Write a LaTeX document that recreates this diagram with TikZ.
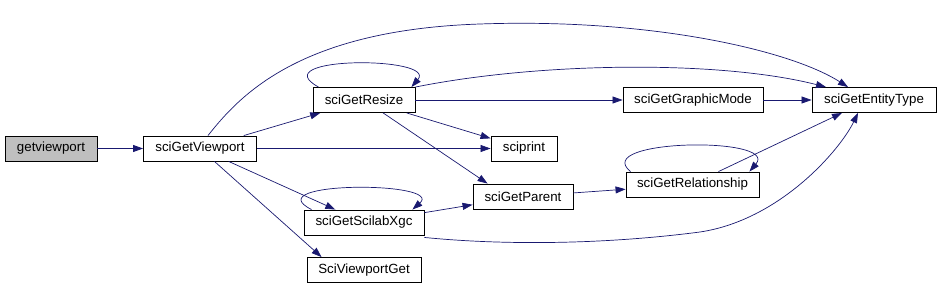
\documentclass[tikz,border=0pt]{standalone}
\usepackage{fontspec}
\setmainfont{Liberation Sans}
\usepackage{tikz}
\usetikzlibrary{arrows.meta}
\definecolor{edgeblue}{HTML}{191970}
\definecolor{rootgray}{HTML}{BFBFBF}

\begin{document}
\begin{tikzpicture}[
x=1pt, y=-1pt,
fn/.style={draw=black, line width=0.9pt, fill=white, minimum height=25pt, inner sep=0pt, font=\fontsize{13.3}{15}\selectfont},
root/.style={fn, fill=rootgray},
call/.style={-{Triangle[length=10pt,width=7pt]}, line width=0.7pt, edgeblue}
]
\useasboundingbox (0,0) rectangle (941,286);
% functions
\node[root, minimum width=92pt] (getvp) at (51,148.5) {getviewport};
\node[fn, minimum width=113pt] (scivp) at (200,148.5) {sciGetViewport};
\node[fn, minimum width=102pt] (resize) at (364,100) {sciGetResize};
\node[fn, minimum width=66pt] (sciprint) at (524,148.5) {sciprint};
\node[fn, minimum width=100pt] (parent) at (523,196.5) {sciGetParent};
\node[fn, minimum width=120pt] (xgc) at (364,222.5) {sciGetScilabXgc};
\node[fn, minimum width=114pt] (vpget) at (364,270) {SciViewportGet};
\node[fn, minimum width=140pt] (gmode) at (693,100) {sciGetGraphicMode};
\node[fn, minimum width=124pt] (etype) at (874,100) {sciGetEntityType};
\node[fn, minimum width=133pt] (relship) at (692.5,184.5) {sciGetRelationship};
% calls
\draw[call] (getvp) -- (scivp);
\draw[call] (scivp) -- (resize);
\draw[call] (scivp) -- (sciprint);
\draw[call] (scivp) -- (xgc);
\draw[call] (scivp) -- ([xshift=15pt]vpget.north west);
\draw[call] ([xshift=8pt]scivp.north) .. controls (240,95) and (300,30) .. (480,24)
  .. controls (650,18) and (790,50) .. ([xshift=-26pt]etype.north);
\draw[call] (resize.north east) .. controls (540,62) and (720,60) .. ([xshift=-48pt]etype.north);
\draw[call] (resize) -- (gmode);
\draw[call] (resize) -- (sciprint);
\draw[call] (resize) -- ([xshift=15pt]parent.north west);
\draw[call] ([xshift=6pt]resize.north west) .. controls (262,56) and (438,56) .. ([xshift=-4pt]resize.north east);
\draw[call] ([xshift=8pt]xgc.north west) .. controls (255,181) and (445,181) .. ([xshift=-12pt]xgc.north east);
\draw[call] (xgc) -- (parent);
\draw[call] ([yshift=-2pt]xgc.south east) .. controls (500,245) and (600,245) .. (700,232)
  .. controls (780,220) and (840,150) .. ([xshift=-16pt]etype.south);
\draw[call] (parent) -- (relship);
\draw[call] ([xshift=5pt]relship.north west) .. controls (590,139) and (780,136) .. ([xshift=-10pt]relship.north east);
\draw[call] ([xshift=26pt]relship.north) -- ([xshift=-32pt]etype.south);
\draw[call] (gmode) -- (etype);
\end{tikzpicture}
\end{document}
